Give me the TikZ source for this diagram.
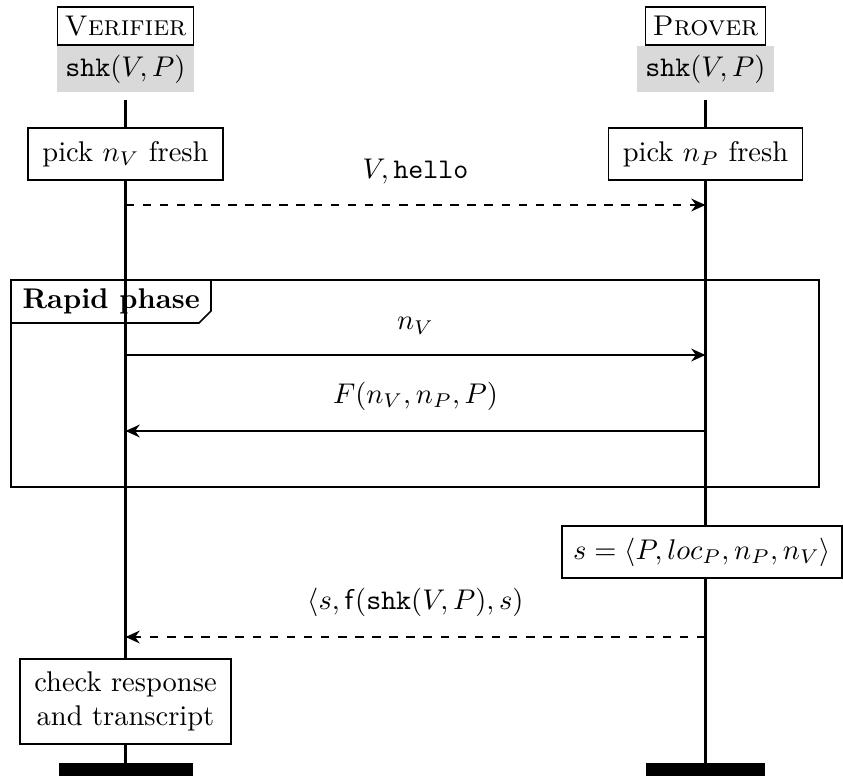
\documentclass[tikz,border=0pt]{standalone}
\usetikzlibrary{arrows.meta}
\begin{document}
\begin{tikzpicture}[x=0.351pt,y=-0.351pt,
  every node/.style={font=\normalsize},
  partybox/.style={draw,line width=0.5pt,inner sep=2.5pt,minimum height=13.3pt},
  keybox/.style={fill=black!15,inner sep=3pt,minimum height=14.7pt,minimum width=45.3pt},
  actbox/.style={draw,line width=0.6pt,inner xsep=5pt,inner ysep=3.5pt,fill=white,minimum height=18.2pt},
  lifeline/.style={line width=1pt},
  endbar/.style={fill=black},
  msg/.style={line width=0.6pt,-{Stealth[length=5pt,width=4.5pt]}},
  msgd/.style={msg,dashed},
  lbl/.style={inner sep=0pt},
  framebox/.style={draw,line width=0.6pt}]
\useasboundingbox (0,0) rectangle (843,776);

% participants
\node[partybox] (ver) at (125.5,26) {\textsc{Verifier}};
\node[keybox] (verk) at (125.5,69) {$\texttt{shk}(V,P)$};
\node[partybox] (pro) at (705.5,26) {\textsc{Prover}};
\node[keybox] (prok) at (705.5,69) {$\texttt{shk}(V,P)$};

\coordinate (vtop) at (125.5,100);
\coordinate (ptop) at (705.5,100);
\coordinate (vbot) at (125.5,763);
\coordinate (pbot) at (705.5,763);

% rapid phase frame with its label tab
\draw[framebox] (11,280) rectangle (819,487);
\draw[framebox] (11,323) -- (199,323) -- (211,311) -- (211,280);
\node[lbl,anchor=west] (rpl) at (22,301) {\textbf{Rapid phase}};

% lifelines
\draw[lifeline] (vtop) -- (vbot);
\draw[lifeline] (ptop) -- (pbot);

% end bars
\fill[endbar] (59,763) rectangle (193,776);
\fill[endbar] (646,763) rectangle (765,776);

% actions
\node[actbox] (pickv) at (125.5,154) {pick $n_V$ fresh};
\node[actbox] (pickp) at (705.5,154) {pick $n_P$ fresh};
\node[actbox,inner xsep=3.8pt] (sdef) at (702,552) {$s = \langle P, loc_P, n_P, n_V\rangle$};
\node[actbox,align=center,inner ysep=4.5pt] (check) at (125.5,701.5) {check response\\and transcript};

% messages
\coordinate (m1v) at (125.5,205); \coordinate (m1p) at (705.5,205);
\coordinate (m2v) at (125.5,355); \coordinate (m2p) at (705.5,355);
\coordinate (m3v) at (125.5,431); \coordinate (m3p) at (705.5,431);
\coordinate (m4v) at (125.5,637); \coordinate (m4p) at (705.5,637);

\draw[msgd] (m1v) -- node[above=7pt,lbl] (l1) {$V, \texttt{hello}$} (m1p);
\draw[msg] (m2v) -- node[above=7pt,lbl] (l2) {$n_V$} (m2p);
\draw[msg] (m3p) -- node[above=7pt,lbl] (l3) {$F(n_V,n_P,P)$} (m3v);
\draw[msgd] (m4p) -- node[above=7pt,lbl] (l4) {$\langle s, \mathsf{f}(\texttt{shk}(V,P), s)$} (m4v);
\end{tikzpicture}
\end{document}
